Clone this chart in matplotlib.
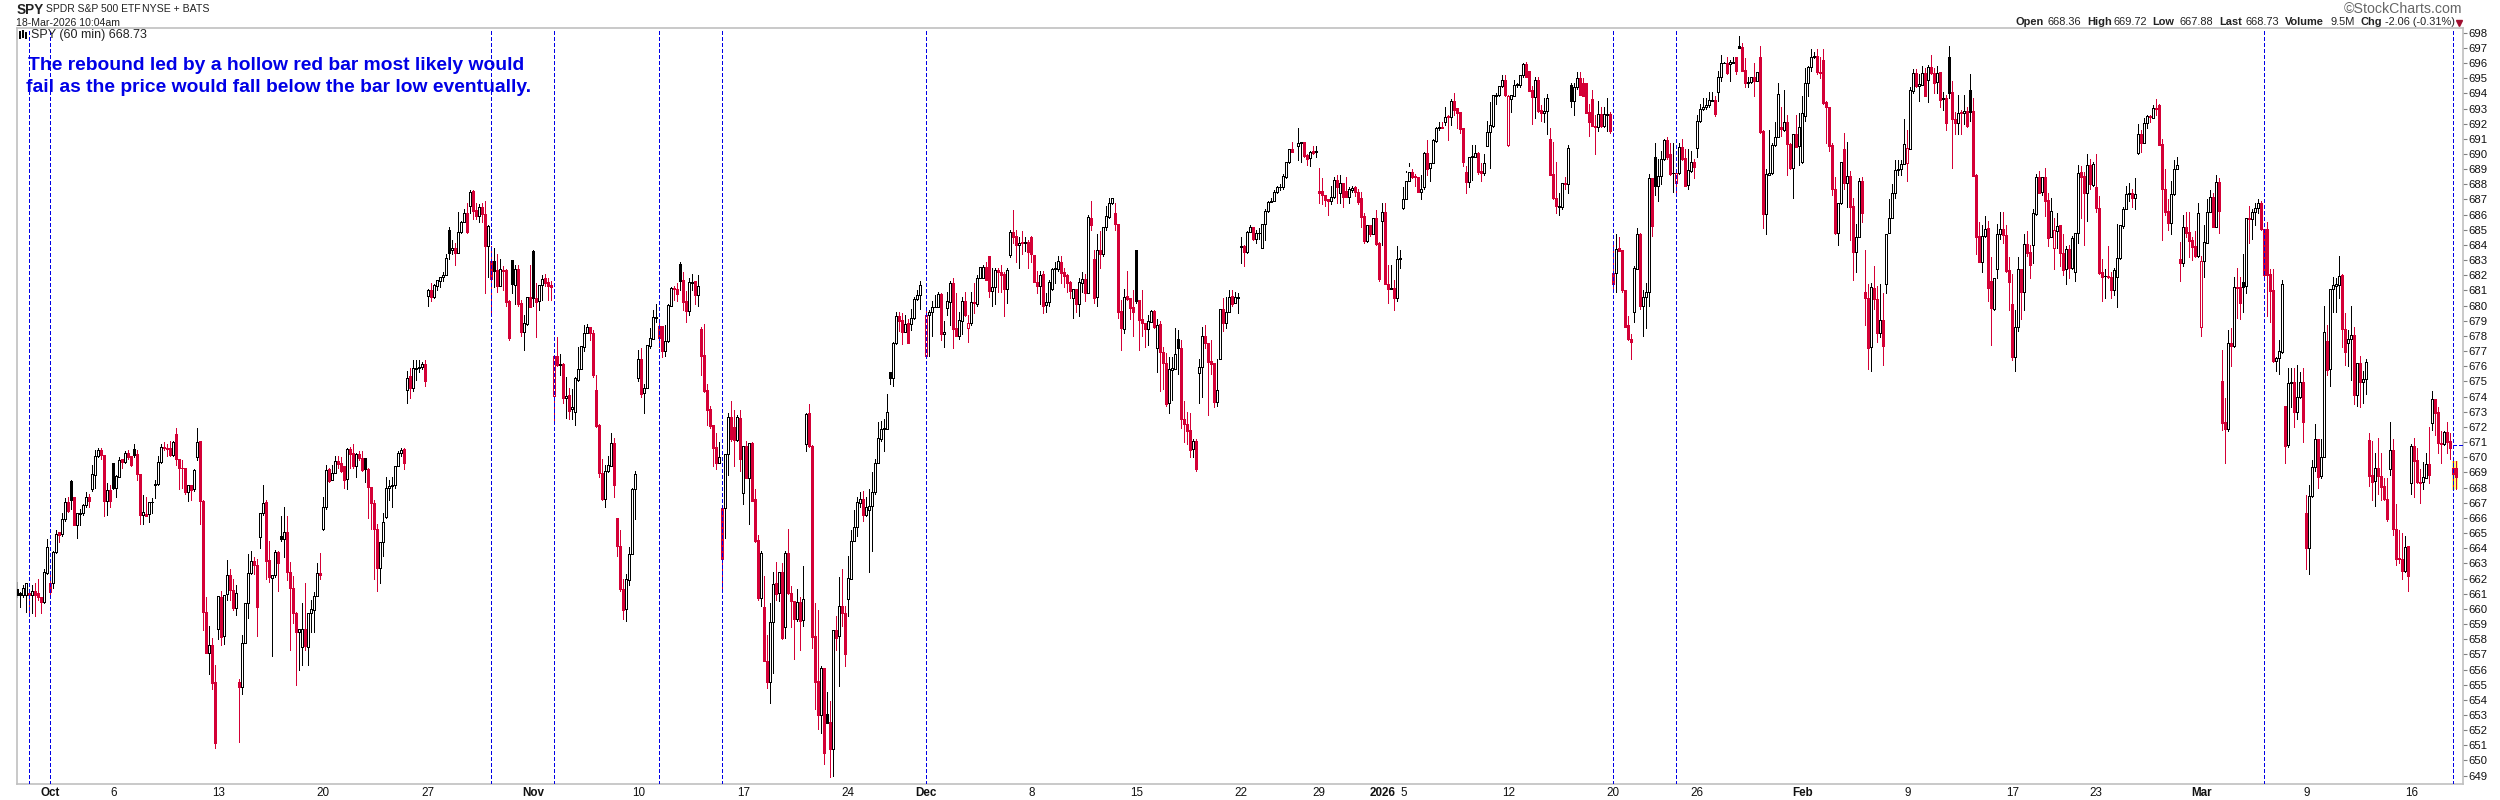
import matplotlib
matplotlib.use("Agg")
import matplotlib.pyplot as plt
from matplotlib.lines import Line2D

nan = float("nan")

# SPY 60 min bars, ten per row
opens = [
661.29,661.07,660.91,660.91,661.07,660.91,661.2,661.02,660.8,660.47,
662.37,661.68,661.68,663.77,665.04,664.91,665.9,667.07,668.43,667.35,
665.51,666.25,666.34,666.85,667.35,667.9,668.82,670.08,670.47,670.14,
667.13,667.84,669.59,667.95,668.72,669.86,669.66,670.3,670.08,670.52,
670.21,668.87,666.21,666.25,666.25,667.02,668.17,668.23,669.7,670.69,
670.63,670.58,670.14,671.53,669.86,669.31,669.26,667.73,668.17,667.88,
670.03,671.04,667.11,659.77,657.07,657.59,655.15,658.65,660.8,658.21,
660.96,662.23,661.24,660.08,655.15,654.82,657.73,660.36,662.34,663.13,
662.89,664.76,666.3,667.07,663.22,662.06,662.23,663.77,664.8,664.58,
665.04,662.45,661.35,659.75,658.5,657.46,658.65,657.51,659.7,659.92,
660.85,662.34,665.26,666.69,669.2,668.5,668.98,669.75,669.59,669.42,
668.54,670.52,670.25,669.42,670.21,669.92,669.92,669.2,668.01,666.96,
665.24,662.72,664.43,666.08,667.95,668.1,668.17,669.42,670.3,670.52,
674.43,675.36,674.59,675.82,675.86,675.97,676.15,680.65,681.03,680.59,
681.29,681.64,681.86,682.04,684.98,683.64,683.77,683.49,684.83,685.51,
686.08,686.59,687.56,686.3,685.93,686.48,686.04,683.95,682.94,682.94,
682.35,681.31,682.35,682.35,680.3,683.01,681.38,682.41,680.15,678.28,
678.76,680.54,683.6,680.5,680.28,681.34,681.82,681.58,681.34,674.04,
676.68,676.08,676.15,673.93,674.1,673.16,672.96,675.09,675.8,677.29,
678.17,678.57,678.17,674.43,672.12,668.94,667.22,669.09,669.44,670.91,
665.97,664.17,661.29,659.97,661.9,663.59,667.88,675.2,676.46,674.21,
674.54,677.36,677.8,679.2,678.65,678.65,677.03,677.67,680.0,681.16,
681.07,682.74,681.69,680.3,679.67,681.51,681.62,680.7,678.46,676.74,
674.43,673.18,672.13,670.65,669.64,666.63,666.63,670.19,672.63,671.97,
671.13,672.56,667.66,670.74,668.65,670.96,667.22,664.54,660.74,660.1,
656.58,655.2,659.15,661.68,661.02,662.41,658.78,663.66,661.02,660.52,
659.31,660.47,659.26,670.87,672.89,670.74,658.21,655.26,653.0,656.12,
653.07,652.56,650.76,658.6,658.21,660.21,659.7,660.65,661.97,664.5,
665.42,667.0,667.22,666.19,666.52,666.78,667.73,669.64,671.18,671.84,
671.86,675.62,675.25,677.51,679.31,679.05,678.28,678.83,678.76,679.16,
680.41,680.68,nan,676.7,679.38,679.55,679.88,679.93,680.76,678.1,
679.82,680.26,681.49,678.5,678.02,679.0,680.3,678.5,678.83,680.26,
680.1,681.8,681.84,682.52,683.27,680.98,681.2,682.35,682.21,682.08,
681.12,683.36,684.83,684.59,683.97,684.19,684.15,684.19,684.5,683.33,
681.58,681.31,682.06,680.04,680.26,681.07,682.39,682.39,682.87,682.19,
682.0,681.55,680.48,681.09,680.13,681.47,681.77,680.81,685.77,683.07,
680.59,683.66,683.4,685.2,685.86,686.74,686.1,685.38,679.64,678.48,
680.61,680.52,679.88,683.66,680.37,679.12,678.83,678.43,678.94,679.64,
677.18,678.79,676.92,676.24,673.56,675.75,675.82,677.82,677.18,672.5,
672.17,671.8,670.52,671.07,675.53,675.97,677.99,677.51,676.35,676.21,
673.66,676.48,679.75,678.87,679.6,680.63,680.15,680.52,683.88,683.93,
683.55,684.87,685.16,684.41,684.76,683.82,685.36,686.26,686.85,686.92,
687.47,687.8,687.84,688.51,689.46,690.34,nan,690.56,690.71,690.82,
689.94,689.72,690.2,690.12,687.54,687.54,687.3,687.02,686.93,687.15,
688.29,687.41,688.07,687.57,687.15,687.63,687.81,687.52,687.08,685.92,
684.23,685.3,684.73,685.76,684.16,685.61,686.18,681.41,681.1,681.15,
680.49,683.08,686.42,687.02,688.25,688.84,688.56,688.51,687.52,687.85,
690.05,689.06,689.39,690.89,691.7,691.81,692.12,692.53,692.47,693.48,
693.02,692.8,691.7,688.8,688.18,689.79,689.83,690.09,688.86,688.77,
690.53,691.46,691.85,693.83,693.9,694.49,694.89,690.6,693.61,693.85,
694.56,694.56,695.21,695.92,695.48,694.23,693.74,694.89,692.91,692.73,
692.86,690.97,688.69,687.08,686.53,686.53,688.09,688.01,694.56,693.52,
694.4,695.0,694.67,694.67,692.78,693.61,691.87,691.81,692.62,691.87,
692.58,692.62,682.18,682.18,683.79,683.68,681.04,678.73,677.79,679.61,
682.4,684.73,680.0,680.56,680.93,688.4,689.79,687.9,688.58,689.65,
690.93,690.0,688.73,688.07,688.77,690.45,689.72,687.94,688.91,689.46,
690.42,692.2,692.95,693.08,693.21,693.52,693.57,694.12,695.11,695.98,
696.03,695.94,695.98,696.38,697.13,697.04,695.54,694.67,694.78,695.06,
694.84,696.38,691.52,686.03,688.62,688.77,690.58,691.15,691.76,691.59,
692.12,690.67,689.1,691.3,690.53,689.5,692.53,694.66,695.72,696.38,
696.47,695.43,696.2,693.45,693.08,690.6,687.67,684.77,686.75,690.31,
688.11,688.55,686.58,683.56,684.55,688.22,680.88,680.53,677.3,681.15,
680.42,678.22,679.06,681.41,684.77,685.76,687.41,688.93,688.99,689.32,
689.39,690.31,694.18,695.32,694.51,694.55,695.37,694.88,695.72,695.37,
694.73,695.39,693.61,693.72,696.38,694.07,692.29,692.03,692.75,692.73,
692.86,694.2,692.82,688.62,684.6,682.91,684.62,685.1,681.61,679.76,
682.44,684.73,685.06,684.66,682.36,680.09,676.6,678.58,682.42,680.93,
684.05,683.52,683.98,686.05,688.47,687.48,688.47,686.97,684.55,683.78,
684.95,685.3,683.5,682.4,683.72,682.47,682.25,684.82,688.8,688.55,
687.41,689.28,687.96,687.81,686.42,682.2,681.94,681.98,681.92,681.0,
681.87,683.13,685.28,686.4,687.35,687.41,687.08,690.09,691.32,690.75,
692.03,692.53,692.4,693.06,693.23,690.66,687.67,686.25,685.43,687.34,
688.99,683.08,682.8,685.17,684.86,684.33,683.94,683.28,678.62,682.93,
684.11,686.2,687.15,685.21,688.14,675.03,672.35,671.86,677.51,677.33,
681.2,681.2,681.58,681.31,685.75,685.71,686.15,686.43,686.74,685.03,
685.05,682.08,681.03,676.37,676.52,676.96,673.38,670.81,674.87,674.94,
673.0,673.99,674.94,666.3,663.99,667.46,669.37,671.18,668.76,670.04,
677.66,675.8,681.07,681.29,681.33,682.02,678.46,677.51,677.82,678.06,
674.13,676.24,674.94,675.18,671.13,668.82,668.43,669.26,668.76,668.1,
667.24,669.2,670.47,665.24,663.33,663.29,662.52,664.14,668.32,670.74,
669.81,668.38,668.34,668.65,669.53,672.28,673.84,672.98,670.96,670.85,
671.64,671.07,669.26,669.26,
]

closes = [
660.91,660.91,661.35,661.68,660.91,661.2,660.91,660.76,660.47,662.41,
664.06,661.13,663.77,664.91,664.87,665.9,667.07,666.45,667.18,665.51,
666.34,666.34,666.85,667.35,667.11,668.87,670.08,670.47,670.14,667.13,
667.84,667.11,667.95,668.76,669.81,669.66,670.25,670.03,669.48,670.14,
668.87,666.21,666.36,666.14,667.02,667.07,668.23,669.7,670.69,670.58,
670.52,670.14,671.02,669.86,669.31,669.26,667.73,668.17,667.84,669.15,
671.0,667.11,659.81,657.11,657.59,655.13,651.13,660.85,658.17,660.91,
662.23,661.24,660.03,661.02,654.82,657.73,660.36,662.34,663.13,662.89,
660.14,666.3,666.96,663.18,662.08,662.23,663.77,663.04,664.58,665.04,
662.45,661.35,659.75,658.5,658.65,658.65,657.55,659.7,659.97,660.85,
662.34,662.23,666.69,669.15,668.45,668.98,669.75,669.55,669.11,668.5,
670.52,670.21,669.42,670.21,669.92,669.15,669.2,668.01,666.96,665.24,
662.72,664.43,665.75,667.95,668.1,668.17,669.42,670.3,670.47,669.59,
675.2,674.59,675.86,675.86,675.97,676.15,675.05,681.0,680.59,681.34,
681.69,681.86,682.04,683.12,683.49,683.77,683.49,684.83,685.51,686.08,
684.85,687.47,686.26,685.93,686.48,686.04,683.93,685.25,681.78,682.3,
681.31,682.39,682.3,680.24,677.89,681.4,682.39,680.1,678.28,678.83,
680.54,679.93,680.48,680.26,681.34,681.73,681.51,681.31,681.25,676.68,
676.08,676.13,673.91,674.06,673.07,673.29,675.2,675.8,677.34,678.17,
678.57,678.17,675.42,672.06,668.94,667.22,669.09,669.48,670.91,668.17,
664.17,661.29,659.92,661.95,663.59,667.9,668.89,676.46,674.17,674.54,
677.4,677.84,679.23,679.27,677.89,677.03,677.69,680.04,681.16,681.07,
680.76,681.64,680.26,679.67,681.53,681.58,680.7,681.27,676.7,674.39,
673.12,672.08,670.63,669.64,669.99,663.29,670.19,672.67,671.18,671.13,
672.63,669.88,670.74,668.65,670.91,667.11,664.47,660.69,663.66,656.58,
655.2,659.15,661.62,660.96,662.41,658.1,663.66,661.02,660.52,659.31,
660.47,659.22,660.63,672.85,670.74,658.17,655.2,653.0,656.08,650.52,
652.49,650.76,658.6,658.05,660.21,659.7,657.02,662.01,664.5,665.42,
667.02,667.22,666.19,666.74,666.78,667.73,669.64,671.24,671.84,671.9,
672.96,675.25,677.51,679.31,679.0,678.28,678.76,677.55,679.16,680.41,
680.68,681.33,nan,679.38,679.55,679.88,679.93,680.74,678.13,678.24,
680.3,681.51,678.46,678.02,679.05,680.3,679.38,678.83,680.21,680.15,
681.82,682.52,682.52,681.69,680.98,681.2,682.37,682.24,682.02,681.12,
682.35,684.83,684.54,684.0,684.15,684.13,684.19,683.55,683.38,681.58,
681.31,682.04,680.0,680.26,681.55,682.41,682.46,682.94,682.17,681.95,
681.51,680.98,681.09,680.1,681.53,681.77,680.81,685.82,685.31,680.52,
683.66,683.4,685.2,685.91,686.74,687.07,685.38,679.58,678.54,680.59,
680.43,679.82,679.6,680.32,679.05,678.83,678.43,678.96,679.64,678.59,
678.7,676.92,676.19,673.51,675.8,675.86,676.79,677.18,672.5,672.17,
671.73,670.48,671.09,669.25,675.97,677.99,677.51,676.3,676.15,673.66,
674.41,679.75,678.87,679.6,680.59,680.1,680.54,680.57,683.93,683.55,
684.87,685.16,684.39,684.76,684.81,685.36,686.26,686.81,686.92,687.47,
687.8,687.84,688.58,689.46,690.34,690.12,nan,690.71,690.78,689.87,
689.68,690.16,690.09,690.18,687.46,687.3,686.97,686.93,687.15,688.29,
687.81,688.07,687.19,687.15,687.7,687.74,687.52,686.86,685.87,684.29,
685.3,684.73,685.76,684.05,681.76,686.18,681.41,681.1,681.15,680.49,
683.06,683.13,687.02,688.25,688.84,688.51,688.47,687.52,687.68,690.05,
689.02,689.39,690.93,691.7,691.81,691.72,692.47,692.42,693.52,692.91,
692.69,691.65,689.46,688.18,689.79,689.87,690.05,688.84,688.77,689.39,
691.46,691.9,693.9,693.9,694.49,694.89,693.9,693.85,693.9,694.56,
694.6,695.21,695.92,695.1,694.18,693.74,694.89,692.86,692.73,692.84,
693.68,688.62,687.08,686.58,686.58,688.07,688.01,690.38,693.52,694.4,
695.0,693.9,693.85,692.73,692.14,691.87,691.81,692.62,691.85,692.62,
692.62,691.52,681.41,683.72,683.63,681.0,678.62,677.79,677.57,682.51,
684.71,680.0,680.56,680.93,688.4,685.26,687.9,688.58,689.65,690.93,
689.79,688.69,688.77,688.73,690.49,689.68,687.9,688.95,689.46,689.11,
692.2,692.95,693.08,693.21,693.57,693.57,692.64,695.11,695.98,696.03,
695.37,696.05,696.07,695.48,697.02,695.5,694.67,694.78,695.06,694.82,
695.41,691.48,686.03,688.67,688.77,690.58,691.15,693.94,691.63,692.09,
690.64,689.1,691.3,690.49,691.81,692.69,694.66,695.72,696.38,696.47,
695.43,695.37,693.39,693.08,690.55,687.67,684.77,686.75,689.45,688.11,
688.55,686.53,683.56,684.55,688.22,686.09,680.53,677.23,681.21,680.42,
678.22,679.06,677.37,684.71,685.76,687.41,688.93,688.99,689.32,690.64,
690.38,694.22,695.32,694.51,694.6,695.37,693.83,695.72,695.32,694.71,
695.37,693.56,693.72,692.07,694.05,692.29,692.03,692.73,692.69,692.86,
691.87,692.75,688.58,684.55,682.91,684.62,685.08,681.19,679.87,681.85,
684.73,685.04,684.66,682.31,681.59,676.58,678.58,682.4,680.93,684.05,
683.5,682.69,686.09,688.47,687.45,688.47,686.91,684.49,686.22,684.99,
685.28,683.45,682.36,683.72,682.47,684.44,684.77,688.77,688.51,687.41,
689.28,688.03,689.32,686.47,682.18,681.92,681.98,681.89,681.0,682.36,
683.13,685.3,686.4,687.34,687.41,687.08,687.37,691.3,690.75,692.03,
692.51,692.42,693.02,693.0,690.62,687.67,686.2,685.43,687.34,688.99,
689.28,682.8,685.17,684.82,684.29,683.89,683.3,686.14,682.93,684.18,
686.16,687.15,685.21,688.14,686.27,672.28,671.86,677.51,677.33,681.2,
681.14,680.19,681.25,685.75,685.71,686.15,686.43,686.74,685.05,682.02,
682.0,680.98,676.35,676.57,677.03,681.4,670.74,674.87,674.94,673.0,
673.95,674.94,672.35,663.99,667.46,669.37,671.18,668.72,669.99,678.24,
675.75,681.07,681.33,681.4,681.97,678.43,676.96,677.82,678.04,674.13,
676.24,674.94,675.18,676.26,668.76,668.38,669.26,668.76,668.06,667.22,
665.92,670.47,665.24,663.29,663.27,662.52,664.1,662.19,670.74,669.77,
668.34,668.32,668.67,669.53,668.82,673.84,672.94,670.92,670.87,671.64,
671.03,670.63,668.9,668.73,
]

highs = [
661.8,661.1,661.6,661.7,661.1,661.6,661.7,662.0,660.8,662.6,
664.6,662.3,663.8,665.2,665.1,666.3,667.3,667.4,668.5,667.4,
666.3,666.6,666.9,667.7,667.6,669.5,670.5,670.6,670.6,670.1,
668.3,668.2,669.6,668.8,670.0,669.9,670.4,670.5,670.1,670.9,
670.5,668.9,667.5,667.4,667.0,667.3,668.5,670.1,670.9,671.0,
670.9,671.1,671.1,671.9,669.9,669.8,669.3,668.2,668.2,669.2,
671.9,671.0,667.2,660.8,658.9,658.1,656.3,659.0,661.2,660.9,
663.2,662.6,662.0,661.6,655.4,658.3,660.4,663.6,663.8,663.4,
663.3,666.3,668.2,667.2,664.5,662.2,663.9,663.8,666.1,666.7,
666.1,663.1,662.2,659.8,658.7,660.4,661.7,659.7,660.6,661.1,
663.0,663.7,667.4,669.5,669.3,669.5,670.1,670.1,670.0,669.4,
670.6,670.7,670.9,670.3,670.4,670.4,669.9,669.3,668.0,667.2,
665.6,664.4,666.3,668.7,668.5,668.7,669.4,670.4,670.6,670.6,
675.7,675.9,676.4,676.4,676.4,676.3,676.4,681.1,681.5,681.4,
681.7,681.9,682.2,683.4,685.2,684.3,684.1,686.2,685.6,686.4,
686.8,687.6,687.6,686.8,686.7,686.8,686.9,685.3,683.9,683.8,
683.4,683.1,682.6,682.4,680.4,683.0,682.7,682.7,680.4,679.4,
680.6,682.7,683.7,681.5,681.3,682.0,682.1,681.8,681.6,676.7,
677.9,676.8,676.2,675.3,674.6,674.5,675.3,677.3,677.3,678.7,
678.8,678.6,678.4,675.4,672.2,669.9,669.5,670.1,671.6,671.3,
665.97,665.2,662.0,662.3,664.1,668.0,669.1,677.1,677.2,674.8,
677.4,678.5,679.7,680.1,678.9,678.65,678.7,680.1,681.2,681.3,
681.5,682.9,682.2,680.96,681.8,682.1,681.6,682.0,678.6,678.8,
674.8,673.4,672.1,671.6,671.0,666.6,670.2,672.9,673.7,673.1,
672.8,673.1,669.9,671.1,670.9,671.0,667.9,664.9,663.8,662.2,
658.3,660.4,662.4,663.1,662.4,663.0,663.8,665.3,661.5,660.5,
661.3,660.8,662.8,672.9,673.5,670.8,660.4,659.9,656.2,656.1,
654.5,653.9,658.6,659.5,662.1,662.6,660.2,663.5,665.2,666.5,
667.4,667.7,667.8,667.4,667.9,669.0,669.9,672.3,672.4,672.5,
674.2,675.6,677.6,679.6,679.6,679.5,679.4,679.1,679.8,680.6,
681.0,681.6,nan,679.8,679.7,680.3,680.7,680.9,680.8,679.0,
680.9,681.6,681.8,680.8,679.6,680.6,680.9,679.4,680.9,681.5,
682.0,682.5,682.7,682.9,683.3,682.5,682.5,682.5,682.7,682.2,
682.5,685.0,686.3,685.0,684.5,684.9,684.5,684.3,684.6,683.3,
682.3,682.3,682.3,680.8,681.7,682.5,682.9,683.3,683.3,682.5,
682.1,681.6,681.1,681.1,681.8,682.2,682.1,686.0,686.9,683.7,
684.7,684.9,685.2,686.6,687.1,687.1,686.8,685.4,680.4,681.1,
682.3,680.5,681.0,683.7,680.4,681.0,678.8,679.4,679.7,679.7,
679.1,679.0,677.3,676.9,676.6,676.6,678.5,678.4,677.7,673.7,
673.0,672.9,671.2,671.2,676.5,678.6,678.7,677.5,677.7,676.2,
676.5,679.8,680.5,680.6,681.0,681.0,680.9,680.8,684.5,684.0,
684.9,685.3,685.2,685.0,685.1,685.4,686.4,686.9,687.1,687.6,
687.9,688.0,688.7,689.5,690.3,690.8,nan,691.7,690.8,690.8,
690.0,690.2,690.5,690.5,689.1,688.4,687.3,687.0,687.9,688.5,
688.6,688.6,688.1,688.5,687.8,687.9,687.9,687.7,687.5,686.1,
685.3,685.3,685.8,686.3,684.2,686.8,686.8,682.7,682.7,681.7,
683.9,683.7,687.8,688.8,689.4,689.0,688.7,688.5,688.6,690.1,
690.9,689.4,691.0,691.8,692.1,692.1,693.1,692.6,693.6,694.0,
693.0,692.8,691.7,689.2,689.8,690.6,690.6,690.1,689.4,690.0,
692.2,693.4,693.9,694.0,694.5,695.2,695.2,693.9,693.9,694.9,
694.7,695.2,696.0,696.1,695.5,694.5,695.1,695.1,693.2,693.7,
693.96,691.7,690.8,689.5,687.4,688.1,688.5,690.6,694.7,694.7,
695.4,695.4,695.0,694.7,693.3,694.2,692.6,693.5,693.1,693.1,
693.7,692.8,684.1,684.7,684.5,683.7,681.0,679.3,678.1,682.6,
685.1,684.8,681.0,681.5,688.7,688.4,690.7,689.7,690.2,691.0,
691.1,690.7,690.7,688.7,690.7,691.0,690.3,690.3,690.2,689.7,
692.6,693.3,693.7,693.7,694.1,694.1,693.8,695.5,696.5,696.1,
696.4,696.2,696.4,696.4,697.8,697.3,696.3,695.1,695.0,696.0,
695.4,697.1,691.6,689.0,691.6,690.7,692.1,694.7,693.1,694.2,
692.6,690.7,691.3,692.6,692.7,693.8,695.7,695.8,696.9,696.7,
696.9,696.4,696.9,693.5,693.1,690.7,688.5,685.1,687.3,691.4,
690.8,688.9,687.1,685.4,688.4,688.5,683.7,681.4,681.5,682.6,
681.3,681.4,680.8,684.7,687.0,688.0,689.6,689.6,689.6,692.3,
691.6,694.4,695.6,695.6,695.3,695.8,695.7,695.9,696.5,695.7,
695.8,695.4,694.1,693.9,697.1,694.8,692.8,693.9,692.9,693.9,
693.1,695.3,693.7,688.7,685.5,685.3,685.9,685.6,683.2,681.85,
685.4,686.2,686.2,685.3,683.2,682.1,679.7,683.2,682.4,684.7,
684.9,684.0,686.4,688.7,688.9,688.5,689.1,687.4,687.1,685.8,
686.1,685.3,684.7,683.9,684.0,684.6,684.8,689.3,689.2,688.8,
690.0,689.7,689.5,690.0,687.2,683.1,682.4,683.9,682.2,682.5,
685.4,685.3,686.5,687.9,688.1,687.7,688.4,692.0,691.6,692.4,
692.6,692.6,693.2,693.6,693.3,691.0,689.0,687.0,688.2,689.6,
689.8,684.2,686.0,686.2,686.2,684.5,684.9,686.8,683.3,685.3,
687.0,687.6,687.4,688.6,688.4,677.1,673.9,678.4,678.5,681.9,
682.5,681.9,683.4,685.8,686.6,686.4,686.8,687.0,686.9,685.0,
685.5,682.4,682.4,676.6,677.7,681.7,671.4,675.9,675.9,675.9,
676.1,675.6,675.9,667.5,668.2,669.8,672.2,671.2,671.2,680.0,
678.7,681.1,681.9,681.8,683.3,682.1,679.5,678.4,680.0,678.6,
676.2,676.7,675.7,676.5,671.6,671.1,670.3,671.3,670.3,668.6,
668.6,672.3,671.2,666.9,665.2,665.0,664.8,664.1,670.9,671.3,
670.6,669.2,669.7,670.3,672.0,674.4,673.84,673.3,671.7,671.7,
672.3,671.6,669.75,669.72,
]

lows = [
660.8,660.1,660.8,659.8,659.7,659.7,659.5,660.6,659.7,660.4,
662.3,661.0,661.4,663.7,664.4,664.8,665.8,666.4,666.6,665.5,
664.7,665.5,666.2,666.7,666.7,667.8,668.0,670.0,669.9,666.1,
666.2,666.7,667.9,667.4,668.7,669.3,669.6,669.9,669.4,670.0,
668.5,665.6,665.6,666.2,665.7,666.3,667.3,668.2,669.6,670.5,
670.1,670.1,670.1,669.5,667.9,668.0,667.6,667.1,667.2,667.8,
669.8,665.6,658.6,657.1,655.7,654.7,650.8,658.0,657.6,657.7,
660.6,660.6,659.9,659.6,651.2,654.4,659.7,659.4,662.3,662.3,
658.2,664.0,666.2,662.0,661.8,656.9,662.1,661.2,664.5,663.4,
661.9,657.3,659.1,655.0,656.0,656.3,657.3,656.3,658.5,658.5,
662.0,662.0,665.2,666.6,668.4,668.5,669.1,669.3,669.0,668.0,
667.9,669.3,669.3,668.7,669.8,669.1,668.4,666.0,665.3,662.0,
661.2,661.7,663.5,666.0,667.2,666.7,668.0,669.4,670.1,669.2,
673.6,673.9,674.4,675.1,675.6,675.8,674.7,680.0,680.3,680.5,
681.0,681.2,681.6,683.0,683.1,683.4,682.7,683.5,684.8,685.5,
684.8,686.1,685.7,685.7,685.5,685.5,680.8,681.9,679.3,681.2,
680.9,681.3,681.0,680.0,677.7,680.8,680.1,680.0,678.0,677.1,
678.7,679.9,680.0,677.9,679.7,680.4,681.3,680.4,680.4,672.3,
676.0,675.4,673.6,672.6,672.5,672.5,672.1,675.0,677.3,677.0,
678.5,677.7,675.3,672.0,668.7,667.2,666.7,669.0,669.4,667.4,
663.5,661.2,659.3,659.2,661.6,667.9,665.9,675.0,674.0,672.9,
677.2,677.2,679.1,678.9,677.3,676.6,676.7,677.6,680.0,680.4,
680.3,681.0,679.7,678.9,679.4,681.0,680.1,680.0,675.4,674.3,
672.1,671.9,669.4,669.2,669.7,661.3,664.7,668.8,671.1,669.4,
671.1,669.1,666.9,668.6,665.6,667.1,664.4,660.6,660.2,656.6,
654.8,653.8,655.8,660.6,660.5,658.0,658.1,661.0,658.8,656.7,
659.2,657.3,658.9,670.4,670.7,657.4,653.4,652.1,651.8,649.8,
652.5,648.9,649.0,657.3,654.9,658.9,656.2,659.5,664.5,665.3,
664.8,666.7,665.8,666.1,662.4,663.8,667.6,669.6,671.1,670.4,
671.9,674.8,674.7,677.5,678.3,677.5,678.7,677.6,678.4,679.1,
680.4,679.8,nan,676.7,676.7,678.0,679.9,680.7,677.7,677.3,
679.4,678.7,677.2,678.0,677.8,678.1,679.3,677.6,678.7,679.5,
680.0,682.0,681.8,681.7,680.6,680.0,680.1,680.9,680.9,679.3,
680.2,683.2,684.1,682.9,682.5,683.4,683.6,682.5,682.9,681.6,
680.8,680.1,679.5,679.6,680.0,681.0,681.5,682.3,681.5,681.2,
680.9,680.5,679.2,679.6,679.3,680.9,680.3,680.8,685.0,680.2,
680.0,682.5,683.3,685.0,685.8,686.7,685.0,679.2,677.1,678.2,
680.4,679.1,678.0,680.2,677.1,678.0,677.3,677.4,678.9,678.5,
675.6,674.4,674.5,673.4,672.9,673.8,675.8,675.5,671.9,671.0,
670.9,670.0,670.0,669.1,673.6,674.0,677.2,672.8,675.5,673.3,
673.4,679.6,678.3,678.5,679.6,680.0,680.15,679.5,682.8,682.6,
683.5,684.9,684.3,684.1,684.4,683.82,684.3,686.2,686.85,686.9,
687.4,687.6,687.7,688.45,689.4,690.1,nan,689.6,689.5,689.8,
689.3,689.2,690.0,689.8,686.8,686.7,686.6,686.0,686.7,687.1,
686.8,686.8,686.5,687.15,686.8,687.5,687.2,686.7,685.2,684.1,
684.2,684.6,684.7,684.0,681.6,684.0,681.4,680.2,681.1,679.7,
680.3,682.5,686.4,688.9,689.2,688.4,687.9,687.5,687.0,687.7,
688.6,688.2,689.4,690.8,691.6,691.7,691.9,690.9,691.9,692.6,
691.7,691.4,689.2,687.4,687.8,688.3,689.8,688.7,688.2,688.6,
690.5,689.1,691.8,693.3,693.8,694.4,693.8,690.5,692.8,693.8,
694.4,694.4,695.1,695.1,694.2,692.0,692.4,692.8,692.2,692.1,
691.3,688.6,687.0,686.1,686.0,686.4,687.7,687.4,693.1,692.6,
694.3,693.9,693.9,692.7,691.2,691.9,690.0,691.5,691.8,691.8,
691.5,691.4,681.0,680.9,683.6,680.9,678.6,677.7,676.5,678.9,
682.4,679.8,678.0,678.5,680.0,684.6,687.3,686.9,688.0,689.6,
689.7,688.6,687.5,687.3,688.7,689.6,687.9,687.7,688.8,688.4,
689.8,692.1,692.9,693.0,693.1,693.5,692.5,693.5,694.8,696.0,
695.3,694.8,696.0,695.3,697.0,695.5,694.4,694.4,694.7,693.8,
694.8,691.4,685.1,684.7,688.6,688.7,690.5,691.1,691.2,691.5,
688.6,689.0,687.1,690.5,689.3,689.4,692.2,693.8,695.5,696.3,
695.3,695.0,693.3,690.7,690.2,687.3,684.7,684.0,686.7,687.7,
686.5,684.3,681.7,682.2,684.5,685.5,678.7,675.8,675.7,679.8,
677.6,677.9,676.1,680.8,685.3,686.9,687.1,688.6,688.6,690.6,
688.2,694.0,694.0,694.4,693.5,695.3,693.8,693.4,695.3,694.0,
694.0,693.1,692.9,691.6,693.7,689.1,691.3,691.3,691.3,692.0,
691.8,692.2,688.6,683.4,682.9,682.2,684.5,680.3,677.4,679.7,
681.8,684.4,684.1,682.2,679.7,676.4,675.7,678.3,679.1,679.7,
683.3,681.8,682.8,686.0,687.4,687.3,685.9,683.9,684.5,682.4,
683.8,682.6,682.0,681.4,681.8,682.4,681.6,684.1,685.8,684.0,
685.6,687.7,687.9,686.2,682.1,680.3,680.5,681.8,680.5,680.7,
679.9,683.1,685.1,686.4,686.9,686.5,686.4,690.0,690.1,691.6,
691.7,692.1,692.4,692.6,690.6,684.3,686.0,685.0,684.7,687.3,
689.0,681.6,682.6,684.5,683.2,683.0,683.2,683.2,678.0,681.9,
684.1,686.2,685.2,685.2,684.8,671.8,669.6,671.7,676.0,677.3,
679.2,679.1,679.6,680.8,684.1,684.4,685.3,686.1,685.0,681.9,
679.3,678.9,676.3,675.7,675.5,676.9,669.6,670.7,673.3,672.0,
672.5,673.9,671.0,662.6,662.3,667.4,669.1,668.0,668.6,670.0,
675.4,674.7,679.6,679.6,680.5,677.3,676.1,676.0,675.1,673.5,
673.4,673.3,673.6,674.2,668.1,667.2,666.8,667.6,667.2,667.2,
665.8,668.8,664.9,662.9,663.0,662.0,662.4,661.2,667.6,667.4,
668.3,667.0,667.9,668.6,668.3,671.8,671.5,670.3,669.6,670.8,
670.3,669.9,667.84,667.88,
]

ticks_y = list(range(649, 699))
date_labels = ["Oct", "6", "13", "20", "27", "Nov", "10", "17", "24", "Dec", "8", "15", "22", "29",
               "2026", "5", "12", "20", "26", "Feb", "9", "17", "23", "Mar", "9", "16"]
date_bars = [11, 32, 67, 102, 137, 172, 207, 242, 277, 303, 338, 373, 408, 434,
             455, 462, 497, 532, 560, 595, 630, 665, 693, 728, 763, 798]
month_labels = ["Oct", "Nov", "Dec", "2026", "Feb", "Mar"]
event_bars = [4, 11, 158, 179, 214, 235, 303, 532, 553, 749, 812]
prev_close = 670.79

n = min(len(opens), len(closes), len(highs), len(lows))

RED = "#d40036"
BLUE = "#0000e6"
GRAY = "#c0c0c0"
FONT = "Liberation Sans"

W, H = 2500, 800
fig = plt.figure(figsize=(W / 100, H / 100), dpi=100)
ax = fig.add_axes([16.7 / W, 1 - 784 / H, (2462.5 - 16.7) / W, (784 - 28) / H])
ax.set_xlim(-0.2, 815.07)
ax.set_ylim(648.45, 698.31)


def label(x, y, s, **kw):
    # header text is placed in image pixels
    kw.setdefault("family", FONT)
    kw.setdefault("va", "center")
    fig.text(x / W, 1 - y / H, s, **kw)


# candles: colour against the prior close, hollow when close is above open
prev = closes[0]
for i in range(n):
    o, c, hi, lo = opens[i], closes[i], highs[i], lows[i]
    if c != c:
        continue
    col = "black" if c >= prev else RED
    prev = c
    ax.vlines(i, lo, hi, color=col, lw=0.6, antialiased=False, zorder=2)
    top, bot = max(o, c), min(o, c)
    ax.bar(i, max(top - bot, 0.01), bottom=bot, width=0.62,
           facecolor="white" if c >= o else col, edgecolor=col, lw=0.6,
           antialiased=False, zorder=3)

# yellow marker behind the latest two bars
ax.bar([n - 2, n - 1], [highs[n - 2] - lows[n - 2], highs[n - 1] - lows[n - 1]],
       bottom=[lows[n - 2], lows[n - 1]], width=1.0, color="#ffff70", zorder=1)

for b in event_bars:
    ax.axvline(b, color=BLUE, lw=0.9, ls=(0, (3, 2)), antialiased=False, zorder=4)
ax.plot([event_bars[-1], 815.07], [prev_close, prev_close], color=BLUE, lw=0.9,
        ls=(0, (3, 2)), antialiased=False, zorder=4)

ax.yaxis.tick_right()
ax.set_yticks(ticks_y)
ax.set_yticklabels([str(t) for t in ticks_y], family=FONT, fontsize=8.2, color="#111111")
ax.tick_params(axis="y", length=3, width=0.8, color="#808080", pad=1)
ax.set_xticks(date_bars)
ax.set_xticklabels(date_labels, family=FONT, fontsize=8.4, color="#111111")
for t in ax.get_xticklabels():
    if t.get_text() in month_labels:
        t.set_fontweight("bold")
ax.tick_params(axis="x", length=0, pad=2)
for s in ax.spines.values():
    s.set_color(GRAY)
    s.set_linewidth(1.2)

# header
label(16.5, 9.5, "SPY", fontsize=9.8, fontweight="bold", color="#222222")
label(45.5, 9.5, "SPDR S&P 500 ETF", fontsize=7.5, color="#222222")
label(142, 9.5, "NYSE + BATS", fontsize=7.6, color="#222222")
label(16.5, 22.7, "18-Mar-2026 10:04am", fontsize=7.6, color="#222222")
label(31, 35, "SPY (60 min) 668.73", fontsize=9.0, color="#222222", zorder=6)
label(2462.5, 9.3, "\u00a9StockCharts.com", fontsize=10.2, color="#666666", ha="right")
quote = [(2015.6, "Open", True), (2047, "668.36", False), (2086.8, "High", True), (2113.5, "669.72", False),
         (2152.6, "Low", True), (2179.4, "667.88", False), (2218.8, "Last", True), (2245.6, "668.73", False),
         (2285, "Volume", True), (2330.5, "9.5M", False), (2360.8, "Chg", True), (2385.3, "-2.06 (-0.31%)", False)]
for x, s, bold in quote:
    label(x, 22, s, fontsize=7.9, fontweight="bold" if bold else "normal", color="#222222")
fig.add_artist(Line2D([2458.7 / W], [1 - 23 / H], marker="v", ms=4.2, color="#a01030", ls="none"))

# small candle icon in front of the symbol line
for x0, y0, y1 in [(20, 32, 38), (23, 31, 37), (26, 33, 38)]:
    fig.add_artist(Line2D([x0 / W, x0 / W], [1 - y0 / H, 1 - y1 / H], color="black", lw=1.4, zorder=6))

# annotation
label(27.5, 65, "The rebound led by a hollow red bar most likely would", fontsize=13.9,
      fontweight="bold", color=BLUE, zorder=6)
label(26.5, 87, "fail as the price would fall below the bar low eventually.", fontsize=13.9,
      fontweight="bold", color=BLUE, zorder=6)

fig.savefig("out.png", dpi=100)
